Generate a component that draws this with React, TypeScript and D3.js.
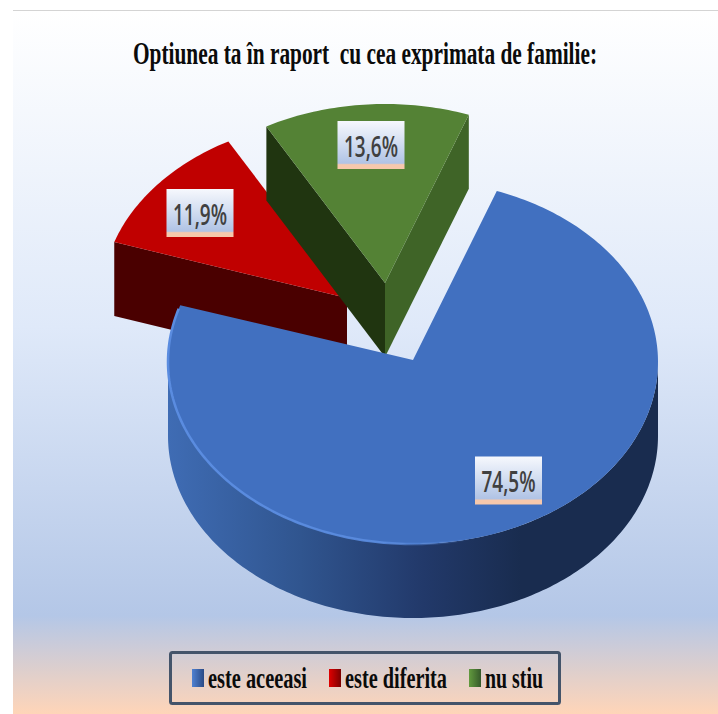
import React from "react";
import * as d3 from "d3";

const categories = ["este aceeasi", "este diferita", "nu stiu"];
const values = [74.5, 11.9, 13.6];
const valueLabels = ["74,5%", "11,9%", "13,6%"];
const topColors = ["#4170c0", "#c00000", "#548235"];
const title = "Optiunea ta în raport  cu cea exprimata de familie:";

const W = 718, H = 714;
const RX = 245, RY = 179, CX = 413, CY = 360, DEPTH = 74;
const BLUE_RY = 182, BLUE_CY = 362;
const offsets = [[0, 0], [-66, -62], [-28, -77]];
const labelCenters = [[508.5, 480.5], [200, 213], [371, 145]];
const legendSwatchX = [192, 329, 469];
const legendTextX = [208, 345, 485];
const legendTextW = [99, 102, 58];

const rad = (d: number) => (d * Math.PI) / 180;
const arcs = d3.pie<number>().sort(null).startAngle(rad(20)).endAngle(rad(380))(values);
const line = d3.line<[number, number]>();

function pt(a: number, ox: number, oy: number, dz = 0, ry = RY, cy = CY): [number, number] {
  return [CX + ox + RX * Math.sin(a), cy + oy - ry * Math.cos(a) + dz];
}
function rim(a0: number, a1: number, ox: number, oy: number, dz = 0, ry = RY, cy = CY): [number, number][] {
  const n = Math.max(2, Math.ceil(Math.abs(a1 - a0) / rad(1)));
  return d3.range(n + 1).map((i) => pt(a0 + ((a1 - a0) * i) / n, ox, oy, dz, ry, cy));
}
function topPath(a0: number, a1: number, ox: number, oy: number, ry = RY, cy = CY) {
  return line([[CX + ox, CY + oy], ...rim(a0, a1, ox, oy, 0, ry, cy)]) + "Z";
}
function radialWall(a: number, ox: number, oy: number) {
  const apex: [number, number] = [CX + ox, CY + oy];
  return line([apex, pt(a, ox, oy), pt(a, ox, oy, DEPTH), [apex[0], apex[1] + DEPTH]]) + "Z";
}

function Label({ i }: { i: number }) {
  const [x, y] = labelCenters[i];
  return (
    <g>
      <rect x={x - 33.5} y={y - 24} width={67} height={48} fill="url(#labelGrad)" />
      <text x={x} y={y + 11.5} textAnchor="middle" fontFamily="'Open Sans', sans-serif" fontWeight={600} fontSize={29.5}
        fill="#404040" textLength={54} lengthAdjust="spacingAndGlyphs">{valueLabels[i]}</text>
    </g>
  );
}

export default function App() {
  const [blue, red, green] = arcs;
  const [bx, by] = offsets[0];
  const [rx, ry] = offsets[1];
  const [gx, gy] = offsets[2];
  const wallTop = rim(rad(90), rad(270), bx, by, 0, BLUE_RY, BLUE_CY);
  const wallBottom = rim(rad(270), rad(90), bx, by, DEPTH, BLUE_RY, BLUE_CY);
  const blueWall = line([...wallTop, ...wallBottom]) + "Z";
  return (
    <svg width={W} height={H} style={{ position: "absolute", left: 0, top: 0 }}>
      <defs>
        <linearGradient id="bg" x1="0" y1="0" x2="0" y2="1">
          <stop offset="0" stopColor="#ffffff" />
          <stop offset="0.45" stopColor="#dfe9f9" />
          <stop offset="0.86" stopColor="#b4c7e7" />
          <stop offset="1" stopColor="#ffd5b8" />
        </linearGradient>
        <linearGradient id="labelGrad" x1="0" y1="0" x2="0" y2="1">
          <stop offset="0" stopColor="#f6f8fd" />
          <stop offset="0.45" stopColor="#d3def1" />
          <stop offset="0.88" stopColor="#b0c3e5" />
          <stop offset="0.91" stopColor="#f6c8ac" />
          <stop offset="1" stopColor="#f6c8ac" />
        </linearGradient>
        <linearGradient id="wall" gradientUnits="userSpaceOnUse" x1={168} y1={0} x2={658} y2={0}>
          <stop offset="0" stopColor="#3f6cb4" />
          <stop offset="0.27" stopColor="#30558f" />
          <stop offset="0.52" stopColor="#22396a" />
          <stop offset="0.72" stopColor="#192c4f" />
          <stop offset="1" stopColor="#192c4f" />
        </linearGradient>
        <linearGradient id="rimLight" gradientUnits="userSpaceOnUse" x1={168} y1={0} x2={470} y2={0}>
          <stop offset="0" stopColor="#5a8ce0" stopOpacity={1} />
          <stop offset="0.7" stopColor="#5a8ce0" stopOpacity={0.9} />
          <stop offset="1" stopColor="#5a8ce0" stopOpacity={0} />
        </linearGradient>
        <linearGradient id="swatchBlue" x1="0" y1="0" x2="1" y2="0">
          <stop offset="0" stopColor="#4f81d2" /><stop offset="1" stopColor="#2a4a85" />
        </linearGradient>
        <linearGradient id="swatchRed" x1="0" y1="0" x2="1" y2="0">
          <stop offset="0" stopColor="#e00000" /><stop offset="1" stopColor="#7a0000" />
        </linearGradient>
        <linearGradient id="swatchGreen" x1="0" y1="0" x2="1" y2="0">
          <stop offset="0" stopColor="#629a3e" /><stop offset="1" stopColor="#35592a" />
        </linearGradient>
      </defs>
      <rect width={W} height={H} fill="#fff" />
      <rect x={13} y={11} width={W - 13} height={H - 11} fill="url(#bg)" />
      <line x1={13} x2={W} y1={10.5} y2={10.5} stroke="#d4d4d4" />

      <g transform="translate(365 0) scale(0.7 1) translate(-365 0)">
        <text x={365} y={64} textAnchor="middle" fontFamily="'Liberation Serif', serif" fontWeight={700} fontSize={32}
          fill="#0b0b0b" textLength={663} lengthAdjust="spacingAndGlyphs" style={{ whiteSpace: "pre" }}>{title}</text>
      </g>

      {/* red slice */}
      <path d={radialWall(red.startAngle, rx, ry)} fill="#4a0000" />
      <path d={topPath(red.startAngle, red.endAngle, rx, ry)} fill={topColors[1]} />

      {/* green slice */}
      <path d={radialWall(green.startAngle, gx, gy)} fill="#203510" />
      <path d={radialWall(green.endAngle, gx, gy)} fill="#3f6427" />
      <path d={topPath(green.startAngle, green.endAngle, gx, gy)} fill={topColors[2]} />

      {/* blue slice */}
      <path d={blueWall} fill="url(#wall)" />
      <path d={topPath(blue.startAngle, blue.endAngle, bx, by, BLUE_RY, BLUE_CY)} fill={topColors[0]} />
      <path d={line(rim(rad(165), rad(287), bx, by, 0, BLUE_RY, BLUE_CY)) ?? ""} fill="none" stroke="url(#rimLight)" strokeWidth={2.5} />

      {[0, 1, 2].map((i) => <Label key={i} i={i} />)}

      <rect x={170.5} y={652.5} width={389} height={51} rx={2} fill="none" stroke="#44546a" strokeWidth={3} />
      {categories.map((c, i) => (
        <g key={c}>
          <rect x={legendSwatchX[i]} y={669} width={12} height={18}
            fill={["url(#swatchBlue)", "url(#swatchRed)", "url(#swatchGreen)"][i]} />
          <text x={legendTextX[i]} y={688} fontFamily="'Liberation Serif', serif" fontWeight={700} fontSize={29}
            fill="#0b0b0b" textLength={legendTextW[i]} lengthAdjust="spacingAndGlyphs">{c}</text>
        </g>
      ))}
    </svg>
  );
}
